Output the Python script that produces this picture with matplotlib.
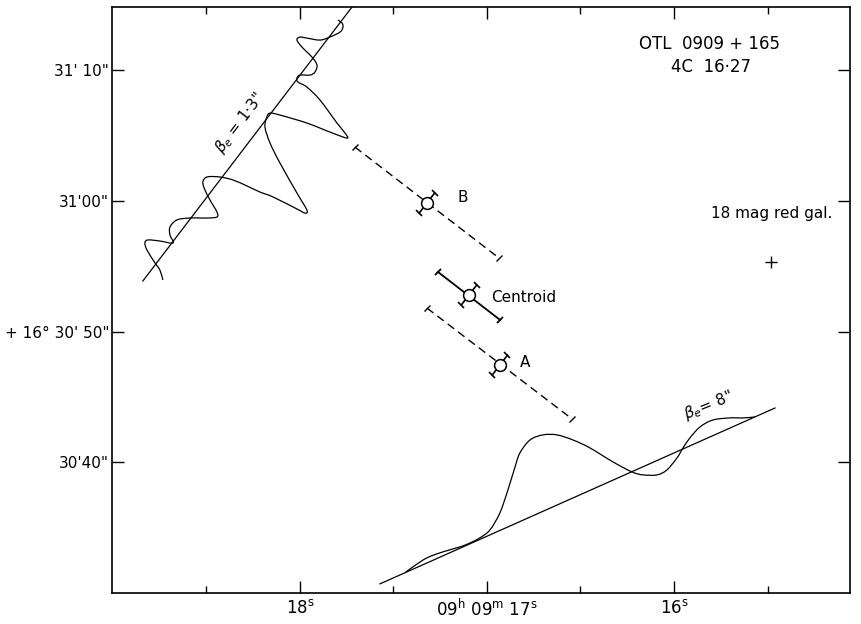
import numpy as np
import matplotlib.pyplot as plt
from matplotlib.markers import MarkerStyle
from matplotlib.transforms import Affine2D
from matplotlib.path import Path
from matplotlib.patches import PathPatch

# RA in seconds of 09h 09m, Dec in arcsec above +16 30' 00"
ra_major = [18, 17, 16]
ra_major_labels = [r'18$^{\mathrm{s}}$', r'09$^{\mathrm{h}}$ 09$^{\mathrm{m}}$ 17$^{\mathrm{s}}$',
                   r'16$^{\mathrm{s}}$']
ra_minor = [18.5, 17.5, 16.5, 15.5]
dec_major = [40, 50, 60, 70]
dec_labels = ["30'40\"", "+ 16° 30' 50\"", "31'00\"", "31' 10\""]

# radio components
src_names = ['B', 'Centroid', 'A']
src_ra = [17.321, 17.096, 16.931]
src_dec = [59.85, 52.81, 47.45]
err_ra1 = [17.706, 17.262, 17.321]
err_dec1 = [64.13, 54.57, 51.81]
err_ra2 = [16.936, 16.930, 16.545]
err_dec2 = [55.64, 50.90, 43.32]
err_minor = [0.95, 0.95, 0.95]   # arcsec, across the axis
err_ls = ['dashed', 'solid', 'dashed']
name_offset = [(22, 4), (16, -1.5), (14.5, 2)]

# 18 mag red galaxy
gal_ra, gal_dec = 15.48, 55.33

# scan with beta_e = 1.3"
scan1_ra = [18.840, 17.703]
scan1_dec = [53.88, 75.2]
prof1_ra = [18.733, 18.749, 18.775, 18.818, 18.829, 18.813, 18.749, 18.679, 18.695, 18.695,
            18.658, 18.588, 18.497, 18.444, 18.444, 18.481, 18.508, 18.519, 18.497, 18.428,
            18.358, 18.283, 18.214, 18.144, 18.016, 17.973, 17.963, 18.016, 18.107, 18.160,
            18.187, 18.177, 18.160, 18.107, 17.963, 17.840, 17.749, 17.759, 17.802, 17.893,
            17.963, 18.011, 18.016, 18.000, 17.947, 17.920, 17.909, 17.936, 17.989, 18.016,
            18.000, 17.963, 17.893, 17.840, 17.786, 17.770, 17.775, 17.797]
prof1_dec = [53.96, 54.72, 55.26, 56.25, 56.79, 57.02, 56.94, 56.79, 57.40, 58.01,
             58.55, 58.70, 58.70, 58.78, 59.16, 60.08, 60.84, 61.45, 61.84, 61.84,
             61.61, 61.15, 60.69, 60.31, 59.39, 59.08, 59.31, 60.61, 62.91, 64.44,
             65.66, 66.43, 66.73, 66.58, 65.97, 65.28, 64.82, 65.20, 65.97, 67.73,
             68.72, 69.11, 69.41, 69.64, 69.64, 69.87, 70.41, 71.02, 71.78, 72.32,
             72.55, 72.47, 72.32, 72.55, 72.93, 73.31, 73.62, 73.85]

# scan with beta_e = 8"
scan2_ra = [17.572, 15.460]
scan2_dec = [30.70, 44.16]
prof2_ra = [17.439, 17.396, 17.321, 17.235, 17.144, 17.091, 17.038, 16.984, 16.931, 16.888,
            16.850, 16.824, 16.770, 16.701, 16.626, 16.540, 16.449, 16.326, 16.225, 16.166,
            16.091, 16.038, 15.984, 15.952, 15.915, 15.861, 15.792, 15.701, 15.631, 15.567]
prof2_dec = [31.54, 32.00, 32.69, 33.15, 33.53, 33.83, 34.22, 34.83, 36.13, 37.89,
             39.65, 40.72, 41.71, 42.10, 42.10, 41.71, 41.10, 40.03, 39.27, 39.04,
             39.04, 39.42, 40.34, 41.10, 41.87, 42.71, 43.24, 43.40, 43.40, 43.47]

fig = plt.figure(figsize=(8.61, 6.24), dpi=100)
ax = fig.add_axes([112 / 861, 31 / 624, 738 / 861, 586 / 624])
ax.set_xlim(19.005, 15.059)
ax.set_ylim(30.0, 74.85)


def smooth_trace(xs, ys, lw=0.9):
    # draw the traced points as a smooth Catmull-Rom curve
    p = np.column_stack([xs, ys])
    p = np.vstack([p[0], p, p[-1]])
    verts = [p[1]]
    codes = [Path.MOVETO]
    for i in range(1, len(p) - 2):
        c1 = p[i] + (p[i + 1] - p[i - 1]) / 6
        c2 = p[i + 1] - (p[i + 2] - p[i]) / 6
        verts += [c1, c2, p[i + 1]]
        codes += [Path.CURVE4] * 3
    ax.add_patch(PathPatch(Path(verts, codes), fill=False, lw=lw, ec='k'))


def capped(x1, y1, x2, y2, ls='solid', lw=1.0, cap=6):
    # segment with small end bars perpendicular to it
    if ls == 'dashed':
        ax.plot([x1, x2], [y1, y2], color='k', lw=lw, ls=(0, (5.8, 3.6)), zorder=2)
    else:
        ax.plot([x1, x2], [y1, y2], color='k', lw=lw, zorder=2)
    p1 = ax.transData.transform((x1, y1))
    p2 = ax.transData.transform((x2, y2))
    ang = np.degrees(np.arctan2(p2[1] - p1[1], p2[0] - p1[0]))
    m = MarkerStyle('|', transform=Affine2D().rotate_deg(ang))
    ax.plot([x1, x2], [y1, y2], ls='none', marker=m, ms=cap, mew=lw, color='k', zorder=2)


for i in range(len(src_names)):
    capped(err_ra1[i], err_dec1[i], err_ra2[i], err_dec2[i], ls=err_ls[i],
           lw=1.3 if err_ls[i] == 'solid' else 1.0)
    # short bar across the axis
    pc = ax.transData.transform((src_ra[i], src_dec[i]))
    p1 = ax.transData.transform((err_ra1[i], err_dec1[i]))
    p2 = ax.transData.transform((err_ra2[i], err_dec2[i]))
    d = (p2 - p1) / np.hypot(*(p2 - p1))
    u = np.array([-d[1], d[0]])
    scale = ax.transData.transform((src_ra[i], src_dec[i] + 1))[1] - pc[1]
    q1 = ax.transData.inverted().transform(pc - u * err_minor[i] * scale)
    q2 = ax.transData.inverted().transform(pc + u * err_minor[i] * scale)
    capped(q1[0], q1[1], q2[0], q2[1], lw=1.2)
    ax.plot(src_ra[i], src_dec[i], 'o', ms=8.5, mfc='white', mec='k', mew=1.1, zorder=3)
    ax.annotate(src_names[i], (src_ra[i], src_dec[i]), xytext=name_offset[i],
                textcoords='offset points', ha='left', va='center', fontsize=11)

ax.plot(gal_ra, gal_dec, '+', ms=9, mew=1.0, color='k')
ax.text(gal_ra, 59.08, '18 mag red gal.', ha='center', va='center', fontsize=11)

ax.text(15.808, 72.01, 'OTL  0909 + 165', ha='center', va='center', fontsize=12)
ax.text(15.80, 70.25, '4C  16·27', ha='center', va='center', fontsize=12)

ax.plot(scan1_ra, scan1_dec, color='k', lw=0.9)
smooth_trace(prof1_ra, prof1_dec)
ax.text(18.321, 65.97, r'$\beta_e$ = 1·3"', rotation=53, ha='center', va='center', fontsize=11)

ax.plot(scan2_ra, scan2_dec, color='k', lw=0.9)
smooth_trace(prof2_ra, prof2_dec)
ax.text(15.818, 44.32, r'$\beta_e$= 8"', rotation=22, ha='center', va='center', fontsize=11)

ax.set_xticks(ra_major)
ax.set_xticklabels(ra_major_labels)
ax.set_xticks(ra_minor, minor=True)
ax.set_yticks(dec_major)
ax.set_yticklabels(dec_labels)
ax.tick_params(which='major', direction='in', length=8.5, width=1, top=True, right=True)
ax.tick_params(axis='x', which='minor', direction='in', length=5, width=1, top=True)
ax.tick_params(axis='x', pad=4, labelsize=12)
ax.tick_params(axis='y', pad=2, labelsize=11)
for s in ax.spines.values():
    s.set_linewidth(1.2)

fig.savefig('out.png', dpi=100)
